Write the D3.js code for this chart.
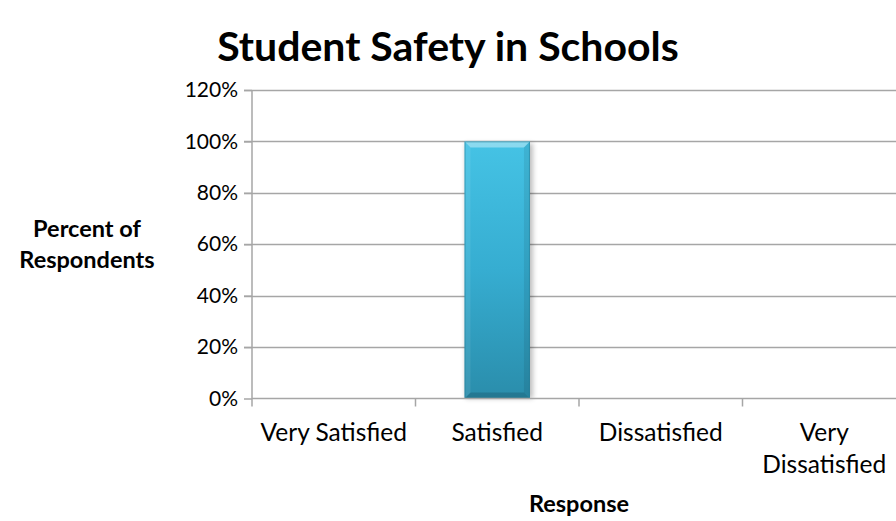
<!DOCTYPE html>
<html><head><meta charset="utf-8">
<script src="https://cdn.jsdelivr.net/npm/d3@7"></script>
<style>
html,body{margin:0;padding:0;background:#fff;overflow:hidden;}
text{font-family:Lato,"Open Sans",sans-serif;fill:#000;}
</style></head>
<body><svg id="chart" width="896" height="521"></svg>
<script>
const categories = ["Very Satisfied", "Satisfied", "Dissatisfied", "Very Dissatisfied"];
const values = [0, 1, 0, 0];
const yTicks = [0, 0.2, 0.4, 0.6, 0.8, 1.0, 1.2];
const titleText = "Student Safety in Schools";
const yTitle = ["Percent of", "Respondents"];
const xTitle = "Response";

const svg = d3.select("#chart");
const plot = {left: 252, right: 906, top: 90, bottom: 398.5};

const x = d3.scaleBand().domain(categories).range([plot.left, plot.right]).paddingInner(0.6).paddingOuter(0.3);
const y = d3.scaleLinear().domain([0, 1.2]).range([plot.bottom, plot.top]);

const defs = svg.append("defs");
const grad = defs.append("linearGradient").attr("id","barGrad").attr("x1",0).attr("y1",0).attr("x2",0).attr("y2",1);
grad.append("stop").attr("offset","0%").attr("stop-color","#45c3e5");
grad.append("stop").attr("offset","50%").attr("stop-color","#36add1");
grad.append("stop").attr("offset","100%").attr("stop-color","#2a8dab");
const sh = defs.append("filter").attr("id","shadow").attr("x","-20%").attr("y","-5%").attr("width","140%").attr("height","110%");
sh.append("feGaussianBlur").attr("stdDeviation",2.5);

// gridlines
svg.append("g").selectAll("line").data(yTicks.filter(d => d > 0)).join("line")
  .attr("x1", plot.left - 8).attr("x2", plot.right)
  .attr("y1", d => Math.round(y(d)) + 0.5).attr("y2", d => Math.round(y(d)) + 0.5)
  .attr("stroke", "#a6a6a6").attr("stroke-width", 1.5);

// y axis
const yAxis = d3.axisLeft(y).tickValues(yTicks).tickFormat(d3.format(".0%")).tickSize(8).tickPadding(6);
const gy = svg.append("g").attr("transform", `translate(${plot.left},0)`).call(yAxis);
gy.select(".domain").remove();
gy.selectAll(".tick line").attr("stroke", "#a6a6a6").attr("stroke-width", 1.5);
gy.selectAll(".tick text").style("font-size", "21px").attr("fill", "#000");
svg.append("line").attr("x1", plot.left).attr("x2", plot.left).attr("y1", plot.top).attr("y2", plot.bottom + 8)
  .attr("stroke", "#a6a6a6").attr("stroke-width", 1.5);

// bars
const bars = svg.append("g");
categories.forEach((c, i) => {
  const v = values[i];
  if (v <= 0) return;
  const x0 = x(c), bw = x.bandwidth(), y0 = y(v), y1 = y(0), b = 6;
  bars.append("rect").attr("x", x0 + 1).attr("y", y0 + 2).attr("width", bw + 2).attr("height", y1 - y0 - 2)
    .attr("fill", "#000").attr("opacity", 0.25).attr("filter", "url(#shadow)");
  bars.append("rect").attr("x", x0).attr("y", y0).attr("width", bw).attr("height", y1 - y0).attr("fill", "url(#barGrad)");
  const poly = (pts, fill, op) => bars.append("polygon").attr("points", pts.map(p => p.join(",")).join(" ")).attr("fill", fill).attr("opacity", op);
  poly([[x0, y0], [x0 + bw, y0], [x0 + bw - b, y0 + b], [x0 + b, y0 + b]], "#ffffff", 0.38);
  poly([[x0, y0], [x0 + b, y0 + b], [x0 + b, y1 - b], [x0, y1]], "#ffffff", 0.08);
  poly([[x0 + bw, y0], [x0 + bw - b, y0 + b], [x0 + bw - b, y1 - b], [x0 + bw, y1]], "#000000", 0.08);
  poly([[x0, y1], [x0 + b, y1 - b], [x0 + bw - b, y1 - b], [x0 + bw, y1]], "#000000", 0.15);
  bars.append("rect").attr("x", x0 + 0.5).attr("y", y0 + 0.5).attr("width", bw - 1).attr("height", y1 - y0 - 1)
    .attr("fill", "none").attr("stroke", "#1f7893").attr("stroke-opacity", 0.5).attr("stroke-width", 1);
});

// x axis
svg.append("line").attr("x1", plot.left).attr("x2", plot.right).attr("y1", plot.bottom).attr("y2", plot.bottom)
  .attr("stroke", "#a6a6a6").attr("stroke-width", 1.5);
const step = x.step();
svg.append("g").selectAll("line").data(categories).join("line")
  .attr("x1", (d, i) => plot.left + step * (i + 1)).attr("x2", (d, i) => plot.left + step * (i + 1))
  .attr("y1", plot.bottom).attr("y2", plot.bottom + 8)
  .attr("stroke", "#a6a6a6").attr("stroke-width", 1.5);

// x labels with wrap
const xl = svg.append("g");
categories.forEach(c => {
  const cx = x(c) + x.bandwidth() / 2;
  const t = xl.append("text").attr("x", cx).attr("y", 441).attr("text-anchor", "middle").style("font-size", "24.5px");
  const tspan = t.append("tspan").attr("x", cx).text(c);
  if (tspan.node().getComputedTextLength() > step - 6) {
    const words = c.split(" ");
    tspan.text(words[0]);
    t.append("tspan").attr("x", cx).attr("dy", 32).text(words.slice(1).join(" "));
  }
});

// titles
svg.append("text").attr("x", 448).attr("y", 61).attr("text-anchor", "middle")
  .style("font-size", "41px").style("font-weight", "bold").text(titleText);
const yt = svg.append("text").attr("text-anchor", "middle").style("font-size", "23.5px").style("font-weight", "bold");
yTitle.forEach((s, i) => yt.append("tspan").attr("x", 87).attr("y", 237 + i * 31).text(s));
svg.append("text").attr("x", (plot.left + plot.right) / 2).attr("y", 512).attr("text-anchor", "middle")
  .style("font-size", "23.5px").style("font-weight", "bold").text(xTitle);
</script></body></html>
